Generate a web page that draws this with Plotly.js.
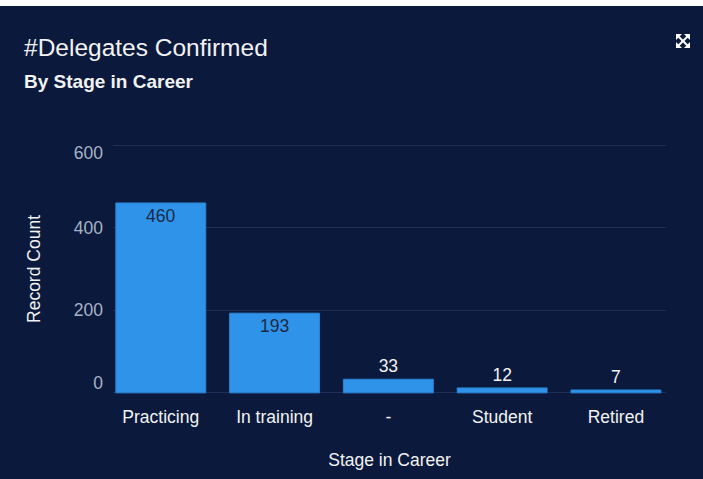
<!DOCTYPE html>
<html>
<head>
<meta charset="utf-8">
<script src="https://cdn.plot.ly/plotly-3.0.1.min.js"></script>
<style>
html,body{margin:0;padding:0;background:#ffffff;}
#strip{position:absolute;left:0;top:0;width:703px;height:6px;background:#ffffff;z-index:5;}
#chart{position:absolute;left:0;top:0;width:703px;height:479px;}
</style>
</head>
<body>
<div id="chart"></div>
<div id="strip"></div>
<script>
// ---- data ----
const categories = ["Practicing", "In training", "-", "Student", "Retired"];
const recordCount = [460, 193, 33, 12, 7];
const yGridVals = [0, 200, 400, 600];
const yMidTicks = [200, 400];
const yTopTick = [600];
const yBottomTick = [0];
const chartTitle = "#Delegates Confirmed";
const chartSubtitle = "By Stage in Career";
const xTitle = "Stage in Career";
const yTitle = "Record Count";

// ---- layout helpers ----
const W = 703, H = 479;
const M = {l: 113, r: 37, t: 141, b: 82};
const pw = W - M.l - M.r, ph = H - M.t - M.b;
const px = x => (x - M.l) / pw;
const py = y => (H - M.b - y) / ph;

const font = "Liberation Sans, Arial, sans-serif";
const bg = "#0b1a3c";

const trace = {
  type: "bar",
  x: categories,
  y: recordCount,
  text: recordCount.map(String),
  textposition: "auto",
  textangle: 0,
  insidetextanchor: "end",
  insidetextfont: {family: font, size: 17.5, color: "#1b2a45"},
  outsidetextfont: {family: font, size: 17.5, color: "#f2f2f2"},
  marker: {color: "#2f93ea", line: {color: "#2a84d4", width: 1}},
  cliponaxis: false,
  hoverinfo: "none"
};
// empty helper traces so the overlaying label axes get drawn
const helpers = ["y2", "y3", "y4"].map(a => ({type: "scatter", x: [], y: [], yaxis: a, showlegend: false, hoverinfo: "none"}));

const yCommon = {
  range: [-10, 610],
  autorange: false,
  fixedrange: true,
  showline: false,
  zeroline: false,
  showgrid: false,
  ticks: "",
  tickmode: "array",
  tickfont: {family: font, size: 17.5, color: "#a7b2c6"},
  ticklabelstandoff: 9
};

// expand icon (decoration)
const ic = {x0: 676, x1: 690, y0: 34, y1: 48};
const iconShapes = [];
function seg(x0, y0, x1, y1, w) {
  iconShapes.push({type: "line", xref: "paper", yref: "paper",
    x0: px(x0), y0: py(y0), x1: px(x1), y1: py(y1),
    line: {color: "#ffffff", width: w}});
}
seg(ic.x0 + 1, ic.y0 + 1, ic.x1 - 1, ic.y1 - 1, 2);
seg(ic.x1 - 1, ic.y0 + 1, ic.x0 + 1, ic.y1 - 1, 2);
[[ic.x0, ic.y0, 1, 1], [ic.x1, ic.y0, -1, 1], [ic.x0, ic.y1, 1, -1], [ic.x1, ic.y1, -1, -1]].forEach(([cx, cy, dx, dy]) => {
  iconShapes.push({type: "path", xref: "paper", yref: "paper",
    path: `M ${px(cx)} ${py(cy)} L ${px(cx + 6 * dx)} ${py(cy)} L ${px(cx)} ${py(cy + 6 * dy)} Z`,
    fillcolor: "#ffffff", line: {width: 0}});
});

const layout = {
  width: W, height: H,
  margin: M,
  paper_bgcolor: bg,
  plot_bgcolor: bg,
  showlegend: false,
  bargap: 0.21,
  xaxis: {
    type: "category",
    range: [-0.42, 4.44],
    fixedrange: true,
    showgrid: false,
    showline: false,
    zeroline: false,
    ticks: "",
    tickfont: {family: font, size: 17.5, color: "#f2f2f2"},
    ticklabelstandoff: 7,
    title: {text: xTitle, font: {family: font, size: 17.5, color: "#f2f2f2"}, standoff: 28}
  },
  yaxis: Object.assign({}, yCommon, {
    tickvals: yGridVals,
    showticklabels: false,
    showgrid: true,
    gridcolor: "#1f3058",
    gridwidth: 1,
    title: {text: yTitle, font: {family: font, size: 17.5, color: "#f2f2f2"}, standoff: 66}
  }),
  yaxis2: Object.assign({}, yCommon, {overlaying: "y", side: "left", tickvals: yMidTicks}),
  yaxis3: Object.assign({}, yCommon, {overlaying: "y", side: "left", tickvals: yTopTick, ticklabelshift: 8}),
  yaxis4: Object.assign({}, yCommon, {overlaying: "y", side: "left", tickvals: yBottomTick, ticklabelshift: -10}),
  annotations: [
    {text: chartTitle, xref: "paper", yref: "paper", x: px(22), y: py(47),
     xanchor: "left", yanchor: "middle", showarrow: false,
     font: {family: font, size: 24.5, color: "#f2f2f2"}},
    {text: "<b>" + chartSubtitle + "</b>", xref: "paper", yref: "paper", x: px(22), y: py(81),
     xanchor: "left", yanchor: "middle", showarrow: false,
     font: {family: font, size: 19, color: "#f2f2f2"}}
  ],
  shapes: iconShapes
};

Plotly.newPlot("chart", helpers.concat([trace]), layout, {displayModeBar: false, staticPlot: true});
</script>
</body>
</html>
